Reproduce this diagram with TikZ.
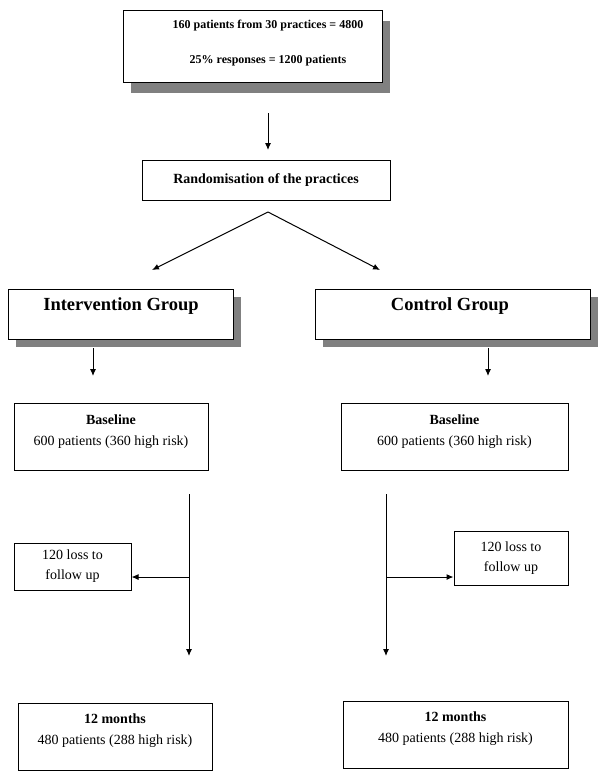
\documentclass[tikz,border=0pt]{standalone}
\usepackage{fontspec}
\setmainfont{Liberation Serif}
\usetikzlibrary{arrows.meta,shadows}
\begin{document}
\begin{tikzpicture}[x=1pt,y=-1pt,
  box/.style={draw=black,line width=1pt,fill=white,inner sep=0pt},
  sbox/.style={box,drop shadow={shadow xshift=8pt,shadow yshift=-8pt,fill=black!50,opacity=1}},
  sboxtop/.style={box,drop shadow={shadow xshift=8pt,shadow yshift=-11pt,fill=black!50,opacity=1}},
  arr/.style={line width=1pt,-{Latex[length=7pt,width=6pt]}},
  txt/.style={align=center,inner sep=0pt}]
\useasboundingbox (0,0) rectangle (600,780);
% top box
\node[sboxtop,minimum width=259pt,minimum height=72pt] (top) at (252.5,46) {};
\node[txt,font=\fontsize{12}{14}\selectfont\bfseries] (toptxt) at (268,43.5) {160 patients from 30 practices = 4800\\[21pt]25\% responses = 1200 patients};
\coordinate (t1) at (268,113);
\coordinate (t2) at (268,150);
\draw[arr] (t1) -- (t2);
% randomisation
\node[box,minimum width=248pt,minimum height=40pt,font=\fontsize{14}{16}\selectfont\bfseries] (rand) at (266,180) {Randomisation of the practices};
\coordinate (split) at (268,212);
\coordinate (lt) at (152,270);
\coordinate (rt) at (380,270);
\draw[arr] (split) -- (lt);
\draw[arr] (split) -- (rt);
% groups
\node[sbox,minimum width=225pt,minimum height=50pt] (ig) at (120.5,314) {};
\node[txt,font=\fontsize{18.5}{20}\selectfont\bfseries] (igt) at (121,306.5) {Intervention Group};
\node[sbox,minimum width=275pt,minimum height=50pt] (cg) at (452.5,314) {};
\node[txt,font=\fontsize{18.5}{20}\selectfont\bfseries] (cgt) at (450,306.5) {Control Group};
\coordinate (ia1) at (93,348); \coordinate (ia2) at (93,376);
\coordinate (ca1) at (488,348); \coordinate (ca2) at (488,376);
\draw[arr] (ia1) -- (ia2);
\draw[arr] (ca1) -- (ca2);
% baseline
\node[box,minimum width=194pt,minimum height=67pt] (bl) at (111,436.5) {};
\node[txt,font=\fontsize{14}{21}\selectfont] (blt) at (111,432) {\textbf{Baseline}\\600 patients (360 high risk)};
\node[box,minimum width=227pt,minimum height=67pt] (br) at (454.5,436.5) {};
\node[txt,font=\fontsize{14}{21}\selectfont] (brt) at (454.5,432) {\textbf{Baseline}\\600 patients (360 high risk)};
% loss
\node[box,minimum width=117pt,minimum height=47pt,txt,font=\fontsize{14}{20}\selectfont] (ll) at (72.5,566.5) {120 loss to\\follow up};
\node[box,minimum width=114pt,minimum height=54pt,txt,font=\fontsize{14}{20}\selectfont] (lr) at (511,558) {120 loss to\\follow up};
% vertical lines
\coordinate (lv1) at (189,494); \coordinate (lv2) at (189,656);
\coordinate (rv1) at (386,494); \coordinate (rv2) at (386,656);
\coordinate (lj) at (189,577); \coordinate (rj) at (386,577);
\draw[arr] (lv1) -- (lv2);
\draw[arr] (rv1) -- (rv2);
\draw[arr] (lj) -- (ll.east |- lj);
\draw[arr] (rj) -- (lr.west |- rj);
% 12 months
\node[box,minimum width=194pt,minimum height=67pt] (ml) at (115,736.5) {};
\node[txt,font=\fontsize{14}{21}\selectfont] (mlt) at (115,731) {\textbf{12 months}\\480 patients (288 high risk)};
\node[box,minimum width=225pt,minimum height=67pt] (mr) at (455.5,734.5) {};
\node[txt,font=\fontsize{14}{21}\selectfont] (mrt) at (455.5,729) {\textbf{12 months}\\480 patients (288 high risk)};
\end{tikzpicture}
\end{document}
